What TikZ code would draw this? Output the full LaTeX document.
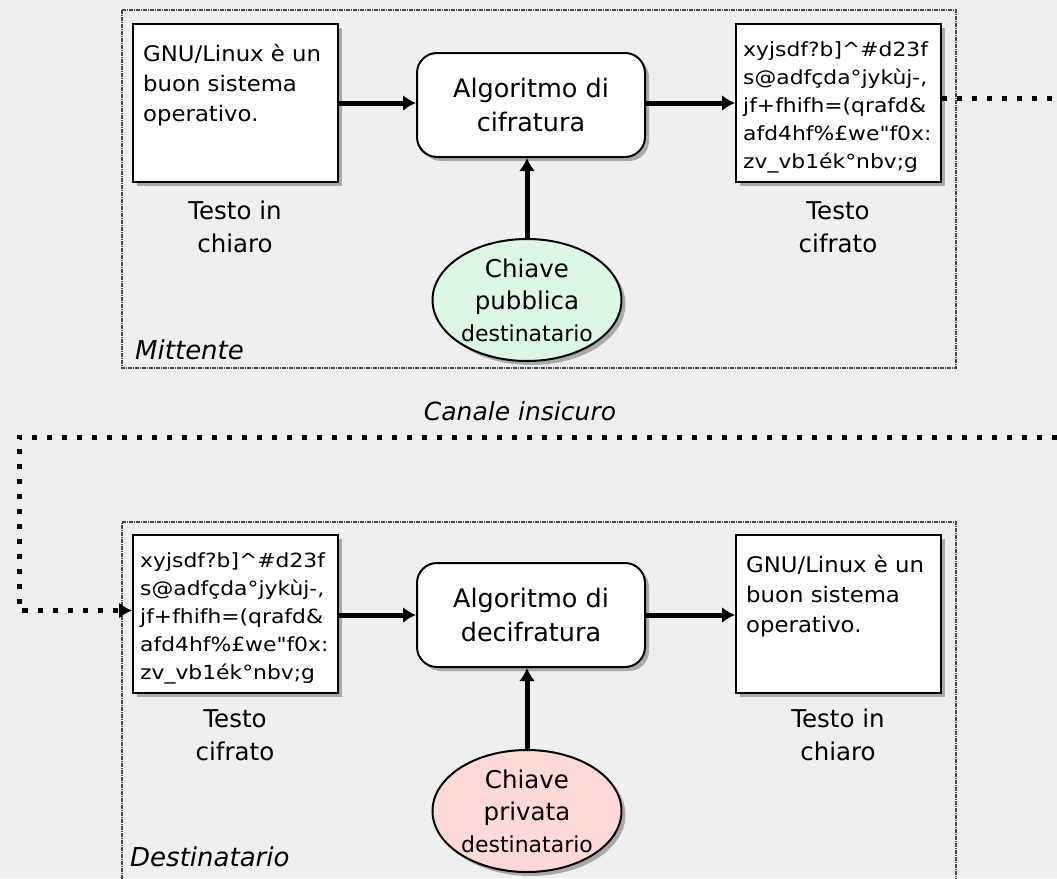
\documentclass[tikz,border=0pt]{standalone}
\usepackage{fontspec}
\setmainfont{DejaVu Sans}
\newfontfamily\boxfont[FakeStretch=1.06]{DejaVu Sans}
\newfontfamily\cipfont[FakeStretch=1.12]{DejaVu Sans}
\usetikzlibrary{shapes.geometric,arrows.meta,shadows}
\definecolor{bgcol}{RGB}{239,239,239}
\definecolor{panelcol}{RGB}{70,70,70}
\definecolor{pubcol}{RGB}{220,248,228}
\definecolor{privcol}{RGB}{255,216,216}
\tikzset{
  panel/.style={draw=panelcol, line width=1.2pt, dash pattern=on 4pt off 1pt on 1pt off 1pt},
  shadowed/.style={drop shadow={shadow xshift=4pt, shadow yshift=-4pt, opacity=0.5, fill=black!60}},
  textbox/.style={draw=black, line width=2pt, fill=white, rectangle, minimum width=205pt, minimum height=158pt, shadowed},
  algbox/.style={draw=black, line width=2pt, fill=white, rectangle, rounded corners=20pt, minimum width=228pt, minimum height=104pt,
     shadowed, align=center, font=\fontsize{25.5}{34}\selectfont},
  keynode/.style={draw=black, line width=2pt, ellipse, inner sep=0pt, minimum width=189pt, minimum height=122pt,
     shadowed, align=center, font=\fontsize{24.5}{32}\selectfont},
  plaintxt/.style={anchor=north west, inner sep=0pt, align=left, font=\boxfont\fontsize{21.5}{30}\selectfont},
  ciptxt/.style={anchor=north west, inner sep=0pt, align=left, font=\cipfont\fontsize{19.5}{28}\selectfont},
  caption/.style={align=center, inner sep=0pt, font=\fontsize{24.5}{33}\selectfont},
  flow/.style={line width=5pt, -{Latex[length=13pt,width=16pt]}},
  channel/.style={line width=5pt, dash pattern=on 5pt off 10pt, -{Latex[length=13pt,width=16pt]}},
  side/.style={anchor=base west, inner sep=0pt, font=\fontsize{26}{30}\selectfont\itshape}
}
\begin{document}
\begin{tikzpicture}[x=1pt,y=-1pt]
\fill[bgcol, use as bounding box] (0,0) rectangle (1057,878);

% panels
\draw[panel] (122,10) rectangle (956,368);
\draw[panel] (122,900) -- (122,522) -- (956,522) -- (956,900);

% top panel
\node[textbox] (plainA) at (235.5,103) {};
\node[plaintxt] (plainAt) at (143,44) {\rule{0pt}{16pt}GNU/Linux è un\\buon sistema\\operativo.};
\node[algbox] (algA) at (531,105) {Algoritmo di\\cifratura};
\node[textbox] (cipA) at (838.5,103) {};
\node[ciptxt] (cipAt) at (743,41) {\rule{0pt}{14pt}xyjsdf?b]\textasciicircum\#d23f\\s@adfçda°jykùj-,\\jf+fhifh=(qrafd\&\\afd4hf\%£we"f0x:\\zv\_vb1ék°nbv;g};
\node[keynode, fill=pubcol] (keyA) at (527,300) {Chiave\\pubblica\\{\fontsize{22}{32}\selectfont destinatario}};
\node[caption] (capA1) at (235,227) {Testo in\\chiaro};
\node[caption] (capA2) at (838,227) {Testo\\cifrato};
\node[side] (mitt) at (135,359) {Mittente};

\draw[flow] (plainA.east) -- (plainA.east -| algA.west);
\draw[flow] (algA.east |- plainA.east) -- (cipA.west);
\draw[flow] (keyA.north) -- (algA.south -| keyA.north);

% bottom panel
\node[textbox] (cipB) at (235.5,613.5) {};
\node[ciptxt] (cipBt) at (140,552) {\rule{0pt}{14pt}xyjsdf?b]\textasciicircum\#d23f\\s@adfçda°jykùj-,\\jf+fhifh=(qrafd\&\\afd4hf\%£we"f0x:\\zv\_vb1ék°nbv;g};
\node[algbox] (algB) at (531,615) {Algoritmo di\\decifratura};
\node[textbox] (plainB) at (838.5,613.5) {};
\node[plaintxt] (plainBt) at (746,555) {\rule{0pt}{16pt}GNU/Linux è un\\buon sistema\\operativo.};
\node[keynode, fill=privcol] (keyB) at (527,811) {Chiave\\privata\\{\fontsize{22}{32}\selectfont destinatario}};
\node[caption] (capB1) at (235,735) {Testo\\cifrato};
\node[caption] (capB2) at (838,735) {Testo in\\chiaro};
\node[side] (dest) at (130,866) {Destinatario};

\draw[flow] (cipB.east |- algB.west) -- (algB.west);
\draw[flow] (algB.east) -- (algB.east -| plainB.west);
\draw[flow] (keyB.north) -- (algB.south -| keyB.north);

% channel
\node[anchor=base, inner sep=0pt, font=\fontsize{25}{30}\selectfont\itshape] (chan) at (520,420) {Canale insicuro};
\coordinate (c1) at (1085,98);
\coordinate (c2) at (1085,437);
\coordinate (c3) at (19,437);
\draw[channel] ([yshift=5pt]cipA.east) -- (c1) -- (c2) -- (c3) |- ([yshift=3pt]cipB.west);
\end{tikzpicture}
\end{document}
